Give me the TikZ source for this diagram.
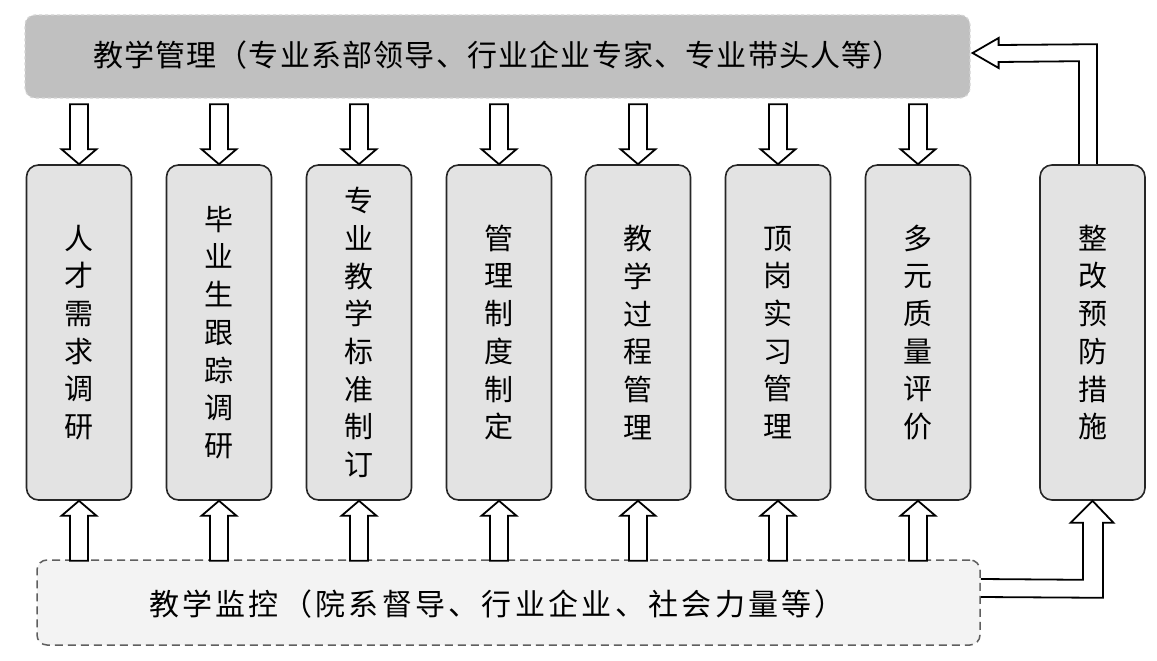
\documentclass[tikz,border=0pt]{standalone}
\usepackage{fontspec}
\newfontfamily\cjk{Noto Sans CJK SC}
\newfontfamily\cjktop[LetterSpace=4]{Noto Sans CJK SC}
\newfontfamily\cjkwide[LetterSpace=11]{Noto Sans CJK SC}
\usetikzlibrary{calc}
\definecolor{topfill}{RGB}{192,192,192}
\definecolor{topline}{RGB}{212,212,212}
\definecolor{boxfill}{RGB}{227,227,227}
\definecolor{botfill}{RGB}{243,243,243}
\definecolor{botline}{RGB}{95,95,95}
\tikzset{
  stagebox/.style={draw=black!85, line width=1.6pt, fill=boxfill, rounded corners=12pt,
    minimum width=105pt, minimum height=335pt, inner sep=0pt, align=center,
    font=\cjk\fontsize{29}{37.7}\selectfont},
  topbar/.style={draw=topline, dashed, line width=1.2pt, fill=topfill, rounded corners=10pt,
    minimum width=945pt, minimum height=83pt, inner sep=0pt},
  botbar/.style={draw=botline, dash pattern=on 8pt off 5pt, line width=1.5pt, fill=botfill,
    rounded corners=10pt, minimum width=943pt, minimum height=85pt, inner sep=0pt},
  blockarrow/.style={draw=black, fill=white, line width=1.8pt, line join=miter},
  lbl/.style={inner sep=0pt}
}
\newcommand\hdown[1]{%
  \filldraw[blockarrow] ($(#1.north)+(-9,-60)$) -- ++(18,0) -- ++(0,45) -- ++(8.5,0)
    -- (#1.north) -- ++(-17.5,-15) -- ++(8.5,0) -- cycle;}
\newcommand\hup[1]{%
  \filldraw[blockarrow] ($(#1.south)+(-9,60)$) -- ++(0,-45) -- ++(-8.5,0)
    -- (#1.south) -- ++(17.5,15) -- ++(-8.5,0) -- ++(0,45) -- cycle;}
\begin{document}
\begin{tikzpicture}[x=1pt,y=-1pt]
\useasboundingbox (0,0) rectangle (1157,661);

% top and bottom bars
\node[topbar] (top) at (497.5,56.5) {};
\node[lbl, font=\cjktop\fontsize{30}{36}\selectfont] (toptext) at (498,55)
  {教学管理（专业系部领导、行业企业专家、专业带头人等）};
\node[botbar] (bot) at (508.5,602.5) {};
\node[lbl, font=\cjkwide\fontsize{30}{36}\selectfont] (bottext) at (497,604)
  {教学监控（院系督导、行业企业、社会力量等）};

% stage boxes
\node[stagebox] (b1) at (79,332.5)  {人\\才\\需\\求\\调\\研};
\node[stagebox] (b2) at (219,332.5) {毕\\业\\生\\跟\\踪\\调\\研};
\node[stagebox] (b3) at (359,332.5) {专\\业\\教\\学\\标\\准\\制\\订};
\node[stagebox] (b4) at (499,332.5) {管\\理\\制\\度\\制\\定};
\node[stagebox] (b5) at (638,332.5) {教\\学\\过\\程\\管\\理};
\node[stagebox] (b6) at (778,332.5) {顶\\岗\\实\\习\\管\\理};
\node[stagebox] (b7) at (918,332.5) {多\\元\\质\\量\\评\\价};
\node[stagebox] (b8) at (1092.5,332.5) {整\\改\\预\\防\\措\\施};

% hollow arrows top -> boxes, bottom -> boxes
\foreach \b in {b1,b2,b3,b4,b5,b6,b7}{\hdown{\b}\hup{\b}}

% bottom bar -> rectification box
\filldraw[blockarrow] ($(bot.east |- 0,579)$) -- ($(b8.south)+(-9.5,79)$) -- ($(b8.south)+(-9.5,22)$)
  -- ($(b8.south)+(-22,22)$) -- (b8.south) -- ($(b8.south)+(21,22)$) -- ($(b8.south)+(10.5,22)$)
  -- ($(b8.south)+(10.5,97)$) -- ($(bot.east |- 0,597)$);

% rectification box -> top bar
\filldraw[blockarrow] ($(b8.north)+(-13.5,0)$) -- ($(b8.north)+(-13.5,-103)$) -- ($(top.east)+(28,5.5)$)
  -- ($(top.east)+(28,11.5)$) -- ($(top.east)+(2,-3.5)$) -- ($(top.east)+(28,-18.5)$)
  -- ($(top.east)+(28,-11.5)$) -- ($(b8.north)+(4.5,-120)$) -- ($(b8.north)+(4.5,0)$);
\end{tikzpicture}
\end{document}
